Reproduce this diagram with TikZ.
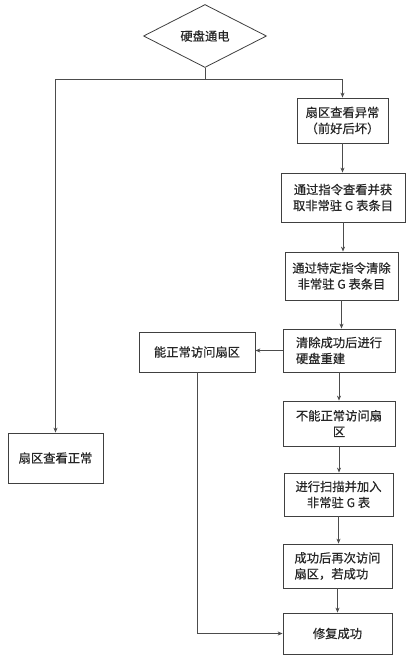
\documentclass[tikz,border=0pt]{standalone}
\usepackage{fontspec}
\setmainfont{Noto Sans CJK SC}[FakeBold=0.4]
\usetikzlibrary{shapes.geometric,arrows.meta}
\begin{document}
\begin{tikzpicture}[x=1pt,y=-1pt,
  box/.style={draw=black!75, line width=0.8pt, rectangle, inner sep=0pt, align=center,
    font=\fontsize{12.3}{16}\selectfont, text=black!85},
  boxl/.style={box, align=left},
  arr/.style={draw=black!70, line width=0.8pt, -{Stealth[length=5pt,width=4pt]}},
  ln/.style={draw=black!70, line width=0.8pt}]
\useasboundingbox[fill=white] (0,0) rectangle (412,662);
\node[draw=black!75, line width=0.8pt, diamond, aspect=2, inner sep=0pt, minimum width=123pt, minimum height=63pt,
  font=\fontsize{12.3}{16}\selectfont, text=black!85] (d) at (205,36) {硬盘通电};
\node[box, minimum width=91pt, minimum height=45pt] (b1) at (342.5,120.5) {扇区查看异常\\（前好后坏）};
\node[box, minimum width=124pt, minimum height=49pt] (b2) at (343,197.5) {通过指令查看并获\\取非常驻 G 表条目};
\node[box, minimum width=113pt, minimum height=48pt] (b3) at (341.5,276) {通过特定指令清除\\非常驻 G 表条目};
\node[boxl, minimum width=112pt, minimum height=43pt] (b4) at (339,350.5) {清除成功后进行\\硬盘重建};
\node[box, minimum width=116pt, minimum height=40pt] (bn) at (197,352) {能正常访问扇区};
\node[box, minimum width=95pt, minimum height=50pt] (bl) at (55.5,458) {扇区查看正常};
\node[box, minimum width=112pt, minimum height=45pt] (b5) at (339,423.5) {不能正常访问扇\\区};
\node[box, minimum width=109pt, minimum height=43pt] (b6) at (338.5,494.5) {进行扫描并加入\\非常驻 G 表};
\node[boxl, minimum width=109pt, minimum height=44pt] (b7) at (337.5,566) {成功后再次访问\\扇区，若成功};
\node[box, minimum width=109pt, minimum height=41pt] (b8) at (337.5,633.5) {修复成功};
\coordinate (j) at (205,79);
\draw[ln] (d.south) -- (j);
\draw[arr] (j) -| (bl.north);
\draw[arr] (j) -| (b1.north);
\draw[arr] (b1.south) -- (b1.south |- b2.north);
\draw[arr] (b2.south) -- (b2.south |- b3.north);
\draw[arr] (b3.south) -- (b3.south |- b4.north);
\draw[arr] (b4.west) -- (b4.west -| bn.east);
\draw[arr] (b4.south) -- (b4.south |- b5.north);
\draw[arr] (b5.south) -- (b5.south |- b6.north);
\draw[arr] (b6.south) -- (b6.south |- b7.north);
\draw[arr] (b7.south) -- (b7.south |- b8.north);
\draw[arr] (bn.south) |- (b8.west);
\end{tikzpicture}
\end{document}
